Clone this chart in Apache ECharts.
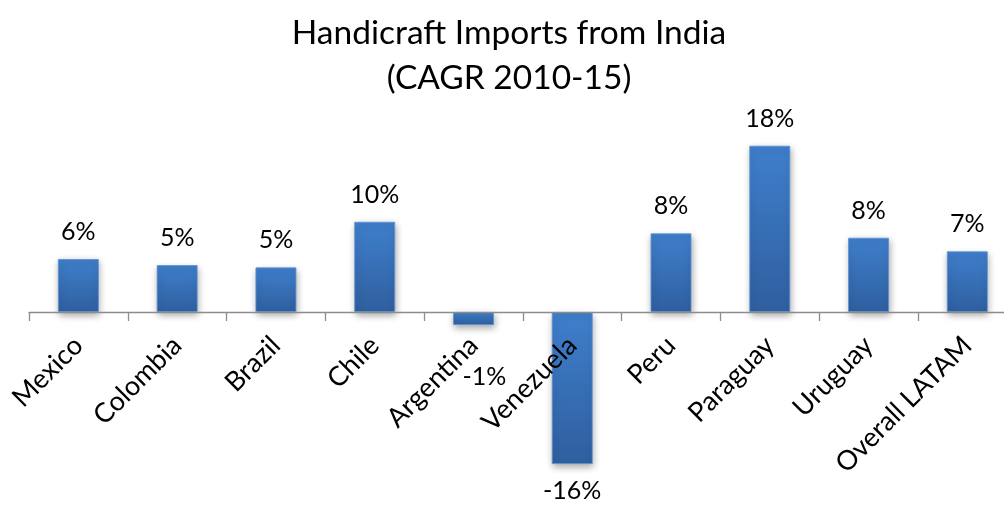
<!DOCTYPE html>
<html>
<head>
<meta charset="utf-8">
<style>
  html, body { margin: 0; padding: 0; background: #ffffff; }
  #chart { width: 1004px; height: 505px; }
</style>
<script src="https://cdn.jsdelivr.net/npm/echarts@6/dist/echarts.min.js"></script>
</head>
<body>
<div id="chart"></div>
<script>
// Handicraft imports from India, compound annual growth 2010-15 (%)
const countries = ['Mexico', 'Colombia', 'Brazil', 'Chile', 'Argentina', 'Venezuela', 'Peru', 'Paraguay', 'Uruguay', 'Overall LATAM'];
const cagr = [5.7, 5.05, 4.8, 9.7, -1.4, -16.35, 8.46, 17.88, 7.99, 6.53];

const FONT = 'Lato';

// value range of the plot; the category axis is lifted to the zero line
const Y_MIN = -20;
const Y_MAX = 20;
const GRID_TOP = 126;
const GRID_BOTTOM = 7;
const CHART_H = 505;

const plotH = CHART_H - GRID_TOP - GRID_BOTTOM;
const zeroLift = plotH * (0 - Y_MIN) / (Y_MAX - Y_MIN);

const chart = echarts.init(document.getElementById('chart'), null, { renderer: 'canvas' });

const barFill = new echarts.graphic.LinearGradient(0, 0, 0, 1, [
  { offset: 0, color: '#3f7fcc' },
  { offset: 1, color: '#2f5f9f' }
]);

const seriesData = cagr.map((v, i) => {
  const item = { value: v };
  if (countries[i] === 'Argentina') {
    item.label = { distance: 40, offset: [11, 0] };
  }
  return item;
});

chart.setOption({
  animation: false,
  backgroundColor: '#ffffff',
  title: {
    text: 'Handicraft Imports from India\n(CAGR 2010-15)',
    left: 504,
    top: 6,
    textAlign: 'center',
    textStyle: {
      fontFamily: FONT,
      fontSize: 33.5,
      fontWeight: 'normal',
      color: '#000000',
      lineHeight: 45
    }
  },
  grid: {
    left: 29,
    right: -12.7,
    top: GRID_TOP,
    bottom: GRID_BOTTOM,
    containLabel: false,
    outerBoundsMode: 'none'
  },
  xAxis: {
    type: 'category',
    data: countries,
    position: 'bottom',
    offset: -zeroLift,
    z: 5,
    boundaryGap: true,
    axisLine: { onZero: false, lineStyle: { color: '#8c8c8c', width: 1.3 } },
    axisTick: { show: true, length: 9, alignWithLabel: false, lineStyle: { color: '#8c8c8c', width: 1.3 } },
    axisLabel: {
      interval: 0,
      rotate: 45,
      margin: 29,
      hideOverlap: false,
      fontFamily: FONT,
      fontSize: 27,
      color: '#000000'
    },
    splitLine: { show: false }
  },
  yAxis: {
    type: 'value',
    min: Y_MIN,
    max: Y_MAX,
    interval: 5,
    show: false,
    splitLine: { show: false }
  },
  series: [{
    type: 'bar',
    data: seriesData,
    barWidth: '41.5%',
    itemStyle: {
      color: barFill,
      borderColor: 'rgba(90,145,215,0.8)',
      borderWidth: 1,
      shadowColor: 'rgba(0,0,0,0.35)',
      shadowBlur: 7,
      shadowOffsetX: 1,
      shadowOffsetY: 3
    },
    label: {
      show: true,
      position: 'outside',
      distance: 15,
      fontFamily: FONT,
      fontSize: 25,
      lineHeight: 24,
      color: '#000000',
      formatter: p => Math.round(p.value) + '%'
    }
  }]
});
</script>
</body>
</html>
